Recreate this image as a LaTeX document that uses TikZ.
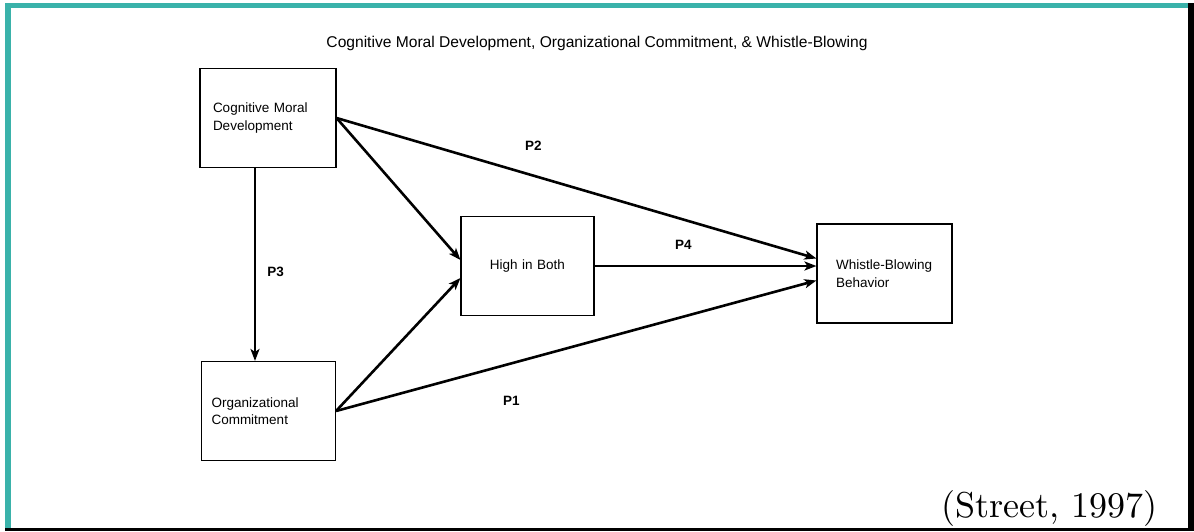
\documentclass[tikz,border=0pt]{standalone}
\usepackage{fontspec}
\newfontfamily\arialfont{Liberation Sans}
\newfontfamily\lmtenfont{lmroman10-regular.otf}
\usepackage{tikz}
\usetikzlibrary{arrows.meta}
\definecolor{frameteal}{RGB}{58,178,170}

\begin{document}
\begin{tikzpicture}[x=1pt, y=-1pt, font=\arialfont\fontsize{13.5}{17.5}\selectfont,
  construct/.style={draw, line width=1.1pt, align=left, minimum height=99pt, inner ysep=0pt},
  link/.style={-{Stealth[length=12pt, width=9pt, inset=3pt]}, line width=2.6pt},
  prop/.style={font=\arialfont\bfseries\fontsize{13.5}{16}\selectfont, inner sep=0pt},
]
\useasboundingbox (0,0) rectangle (1194,531);
\fill[frameteal] (5,3) rectangle (11,529);
\fill[frameteal] (5,3) rectangle (1188,8);
\fill[black] (1188,3) rectangle (1194,531);
\fill[black] (5,528) rectangle (1194,531);

\node[font=\arialfont\fontsize{15.6}{18}\selectfont] (title) at (597,43) {Cognitive Moral Development, Organizational Commitment, \& Whistle-Blowing};

\node[construct, inner xsep=13pt, text width=110pt] (cmd) at (268,118) {Cognitive Moral\\Development};
\node[construct, inner xsep=10pt, text width=114pt] (oc) at (268.5,411) {Organizational\\Commitment};
\node[construct, inner xsep=0pt, text width=133pt, align=center] (hib) at (527.5,266) {High in Both};
\node[construct, inner xsep=19pt, text width=97pt] (wb) at (884.5,273.5) {Whistle-Blowing\\Behavior};

\node[anchor=base east, inner sep=0pt, font=\lmtenfont\fontsize{36}{40}\selectfont] (source) at (1158,517) {(Street, 1997)};

\draw[link] (cmd.east) -- node[prop, pos=0.41, above=24pt] {P2} ([yshift=15pt]wb.west);
\draw[link] (cmd.east) -- ([yshift=6pt]hib.west);
\draw[link] ([xshift=-13pt]cmd.south) -- node[prop, pos=0.54, right=11pt] {P3} ([xshift=-13pt]cmd.south |- oc.north);
\draw[link] (oc.east) -- ([yshift=-12pt]hib.west);
\draw[link] (oc.east) -- node[prop, pos=0.365, below=32pt] {P1} ([yshift=-7pt]wb.west);
\draw[link] (hib.east) -- node[prop, pos=0.4, above=15pt] {P4} (hib.east -| wb.west);
\end{tikzpicture}
\end{document}
